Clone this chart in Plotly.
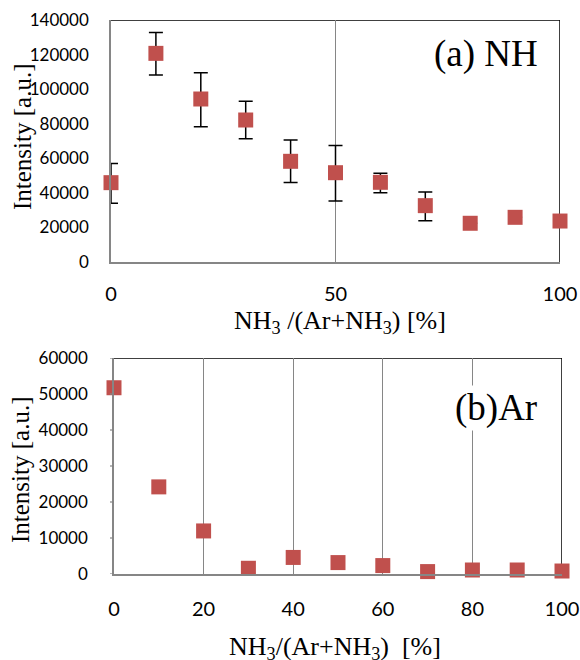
import plotly.graph_objects as go

# ---- data ----
x_pct = [0, 10, 20, 30, 40, 50, 60, 70, 80, 90, 100]
nh_intensity = [45900, 120700, 94300, 82150, 58250, 51660, 46100, 32600, 22400, 25850, 23700]
nh_err_plus = [11100, 12000, 15200, 10900, 12300, 15700, 5200, 7900, 0, 0, 0]
nh_err_minus = [11900, 12500, 16000, 10800, 12300, 16300, 6000, 8700, 0, 0, 0]
ar_intensity = [51740, 24200, 11960, 1590, 4600, 3170, 2340, 670, 1110, 1110, 830]

top_yticks = [0, 20000, 40000, 60000, 80000, 100000, 120000, 140000]
bot_yticks = [0, 10000, 20000, 30000, 40000, 50000, 60000]
top_xticks = [0, 50, 100]
bot_xticks = [0, 20, 40, 60, 80, 100]

RED = "#C0504D"
GRAY = "#868686"
CLEAR = "rgba(0,0,0,0)"
SANS = "Lato"
SERIF = "Liberation Serif"

W, H = 580, 660


def px(xp):
    return xp / W


def py(yp):
    return (H - yp) / H


fig = go.Figure()

fig.add_trace(go.Scatter(
    x=x_pct, y=nh_intensity, mode="markers",
    marker=dict(symbol="square", size=15, color=RED),
    error_y=dict(type="data", array=nh_err_plus, arrayminus=nh_err_minus,
                 color="black", thickness=1.5, width=7, symmetric=False),
    xaxis="x", yaxis="y", cliponaxis=False, showlegend=False))

fig.add_trace(go.Scatter(
    x=x_pct, y=ar_intensity, mode="markers",
    marker=dict(symbol="square", size=15, color=RED),
    xaxis="x2", yaxis="y2", cliponaxis=False, showlegend=False))

# frames (top/right black)
for xr, yr, ymax in [("x", "y", 140000), ("x2", "y2", 60000)]:
    fig.add_shape(type="line", xref=xr, yref=yr, x0=0, x1=100, y0=ymax, y1=ymax,
                  line=dict(color="black", width=1.5), layer="below")
    fig.add_shape(type="line", xref=xr, yref=yr, x0=100, x1=100, y0=0, y1=ymax,
                  line=dict(color="black", width=1.5), layer="below")

# small outside tick marks on the lower y axis
for v in bot_yticks:
    fig.add_shape(type="line", xref="x2 domain", yref="y2", x0=-0.009, x1=0, y0=v, y1=v,
                  line=dict(color=GRAY, width=1.2))

fig.update_layout(
    width=W, height=H, margin=dict(l=0, r=0, t=0, b=0),
    paper_bgcolor="white", plot_bgcolor="white",
    xaxis=dict(domain=[px(111), px(560)], anchor="y", range=[0, 100],
               tickvals=top_xticks, ticktext=[str(v) for v in top_xticks],
               showgrid=True, gridcolor=GRAY, gridwidth=1,
               showline=True, linecolor=GRAY, linewidth=1.5, zeroline=False,
               ticks="", ticklabelstandoff=13,
               tickfont=dict(family=SANS, size=20, color="black"), automargin=False),
    yaxis=dict(domain=[py(262), py(20)], anchor="x", range=[0, 140000],
               tickvals=top_yticks, ticktext=[str(v) for v in top_yticks],
               showgrid=False, zeroline=False,
               showline=True, linecolor=GRAY, linewidth=1.5,
               ticks="outside", ticklen=17, tickcolor=CLEAR,
               tickfont=dict(family=SANS, size=17, color="black"), automargin=False),
    xaxis2=dict(domain=[px(114), px(562)], anchor="y2", range=[0, 100],
                tickvals=bot_xticks, ticktext=[str(v) for v in bot_xticks],
                showgrid=True, gridcolor=GRAY, gridwidth=1,
                showline=True, linecolor=GRAY, linewidth=1.5, zeroline=False,
                ticks="", ticklabelstandoff=16,
                tickfont=dict(family=SANS, size=20, color="black"), automargin=False),
    yaxis2=dict(domain=[py(574), py(358)], anchor="x2", range=[0, 60000],
                tickvals=bot_yticks, ticktext=[str(v) for v in bot_yticks],
                showgrid=False, zeroline=False,
                showline=True, linecolor=GRAY, linewidth=1.5,
                ticks="outside", ticklen=21, tickcolor=CLEAR,
                tickfont=dict(family=SANS, size=17, color="black"), automargin=False),
)

ann_font = dict(family=SERIF, size=25, color="black")
xt_font = dict(family=SERIF, size=26, color="black")
fig.add_annotation(text="Intensity [a.u.]", textangle=-90, xref="paper", yref="paper",
                   x=px(23), y=py(137), showarrow=False, font=ann_font,
                   xanchor="center", yanchor="middle")
fig.add_annotation(text="Intensity [a.u.]", textangle=-90, xref="paper", yref="paper",
                   x=px(20), y=py(470), showarrow=False, font=ann_font,
                   xanchor="center", yanchor="middle")
fig.add_annotation(text="NH<sub>3</sub> /(Ar+NH<sub>3</sub>) [%]", xref="paper", yref="paper",
                   x=px(340), y=py(322), showarrow=False, font=xt_font,
                   xanchor="center", yanchor="middle")
fig.add_annotation(text="NH<sub>3</sub>/(Ar+NH<sub>3</sub>)  [%]", xref="paper", yref="paper",
                   x=px(335), y=py(648), showarrow=False, font=xt_font,
                   xanchor="center", yanchor="middle")
fig.add_annotation(text="(a) NH", xref="paper", yref="paper",
                   x=px(486), y=py(54), showarrow=False,
                   font=dict(family=SERIF, size=37, color="black"),
                   xanchor="center", yanchor="middle")
fig.add_annotation(text="(b)Ar", xref="paper", yref="paper",
                   x=px(496), y=py(408), showarrow=False, bgcolor="white",
                   font=dict(family=SERIF, size=37, color="black"),
                   xanchor="center", yanchor="middle")

fig.write_html("out.html", config={"displayModeBar": False},
               post_script="document.body.style.margin='0';")
